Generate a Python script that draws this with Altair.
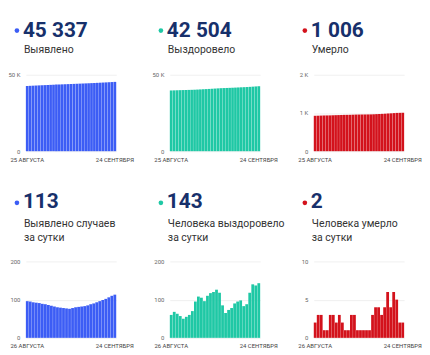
import altair as alt
import pandas as pd

# ---------------- data ----------------
first_day_total = "25 АВГУСТА"
first_day_daily = "26 АВГУСТА"
last_day = "24 СЕНТЯБРЯ"

detected_total = [42665, 42761, 42856, 42949, 43041, 43132, 43221, 43309, 43395, 43479,
                  43561, 43641, 43720, 43798, 43875, 43951, 44029, 44109, 44190, 44272,
                  44355, 44440, 44528, 44618, 44711, 44807, 44906, 45008, 45114, 45224, 45337]
recovered_total = [39733, 39793, 39861, 39924, 39981, 40031, 40086, 40146, 40216, 40311,
                   40419, 40524, 40620, 40730, 40847, 40967, 41093, 41211, 41296, 41361,
                   41434, 41512, 41602, 41697, 41795, 41878, 41966, 42084, 42224, 42361, 42504]
deaths_total = [927, 929, 932, 935, 936, 937, 940, 943, 945, 948,
                950, 951, 952, 955, 958, 959, 960, 961, 962, 963,
                966, 970, 974, 977, 981, 987, 991, 997, 1002, 1004, 1006]

detected_daily = [96, 95, 93, 92, 91, 89, 88, 86, 84, 82, 80, 79, 78, 77, 76,
                  78, 80, 81, 82, 83, 85, 88, 90, 93, 96, 99, 102, 106, 110, 113]
recovered_daily = [60, 68, 63, 57, 50, 55, 60, 70, 95, 108, 105, 96, 110, 117, 120,
                   126, 118, 85, 65, 73, 78, 90, 95, 98, 83, 88, 118, 140, 137, 143]
deaths_daily = [2, 3, 3, 1, 1, 3, 3, 2, 3, 2, 1, 1, 3, 3, 1,
                1, 1, 1, 1, 3, 4, 4, 3, 4, 6, 4, 6, 5, 2, 2]

headlines = ["45 337", "42 504", "1 006", "113", "143", "2"]
captions = [["Выявлено"], ["Выздоровело"], ["Умерло"],
            ["Выявлено случаев", "за сутки"],
            ["Человека выздоровело", "за сутки"],
            ["Человека умерло", "за сутки"]]
y_max = [50000, 50000, 2000, 200, 200, 10]
y_ticks = [[0, 50000], [0, 50000], [0, 1000, 2000], [0, 100, 200], [0, 100, 200], [0, 5, 10]]
y_tick_labels = [["0", "50 K"], ["0", "50 K"], ["0", "1 K", "2 K"],
                 ["0", "100", "200"], ["0", "100", "200"], ["0", "5", "10"]]
series = [detected_total, recovered_total, deaths_total,
          detected_daily, recovered_daily, deaths_daily]
first_days = [first_day_total] * 3 + [first_day_daily] * 3

BLUE = "#3c5df5"
TEAL = "#1fc8a5"
RED = "#d3121c"
colors = [BLUE, TEAL, RED, BLUE, TEAL, RED]
NAVY = "#17306b"
FONT = "Roboto"

W, H = 91, 77


def panel(k):
    vals = series[k]
    n = len(vals)
    df = pd.DataFrame({"i": list(range(n)), "v": vals})
    top = k < 3
    yexpr = " : ".join(
        f"datum.value == {t} ? '{l}'" for t, l in zip(y_ticks[k], y_tick_labels[k])
    ) + " : ''"
    bars = alt.Chart(df).mark_bar(color=colors[k], opacity=1).encode(
        x=alt.X(
            "i:O",
            title=None,
            scale=alt.Scale(paddingInner=0.08, paddingOuter=0),
            axis=alt.Axis(
                values=[0, n - 1],
                labelExpr=f"datum.value == 0 ? '{first_days[k]}' : '{last_day}'",
                ticks=False, domain=False, labelAngle=0, labelOverlap=False,
                labelFontSize=6, labelColor="#444", labelPadding=5, labelFont=FONT,
            ),
        ),
        y=alt.Y(
            "v:Q",
            title=None,
            scale=alt.Scale(domain=[0, y_max[k]], nice=False),
            axis=alt.Axis(
                values=y_ticks[k], labelExpr=yexpr,
                ticks=False, domain=False, grid=True, gridColor="#f0f0f0",
                labelFontSize=6, labelColor="#666", labelPadding=6, labelFont=FONT,
            ),
        ),
    )
    one = alt.Data(values=[{}])
    dot = alt.Chart(one).mark_circle(size=22, color=colors[k], opacity=1).encode(
        x=alt.value(-9), y=alt.value(-44.5 if top else -59)
    )
    num = alt.Chart(one).mark_text(
        text=headlines[k], font=FONT, fontSize=21, fontWeight="bold", color=NAVY,
        align="left", baseline="alphabetic",
    ).encode(x=alt.value(-3), y=alt.value(-38 if top else -53.5))
    cap_text = captions[k] if len(captions[k]) > 1 else captions[k][0]
    cap = alt.Chart(one).mark_text(
        text=cap_text, font=FONT, fontSize=10.5, lineHeight=14, color="#333",
        align="left", baseline="alphabetic",
    ).encode(x=alt.value(-2), y=alt.value(-21.5 if top else -35))
    return alt.layer(bars, dot, num, cap).properties(width=W, height=H)


chart = alt.concat(*[panel(k) for k in range(6)], columns=3).properties(
    spacing={"row": 111, "column": 54},
    bounds="flush",
    padding={"left": 0, "top": 11, "right": 0, "bottom": 0},
).configure_view(stroke=None)

chart.save("out.html", embed_options={"renderer": "svg", "actions": False})
